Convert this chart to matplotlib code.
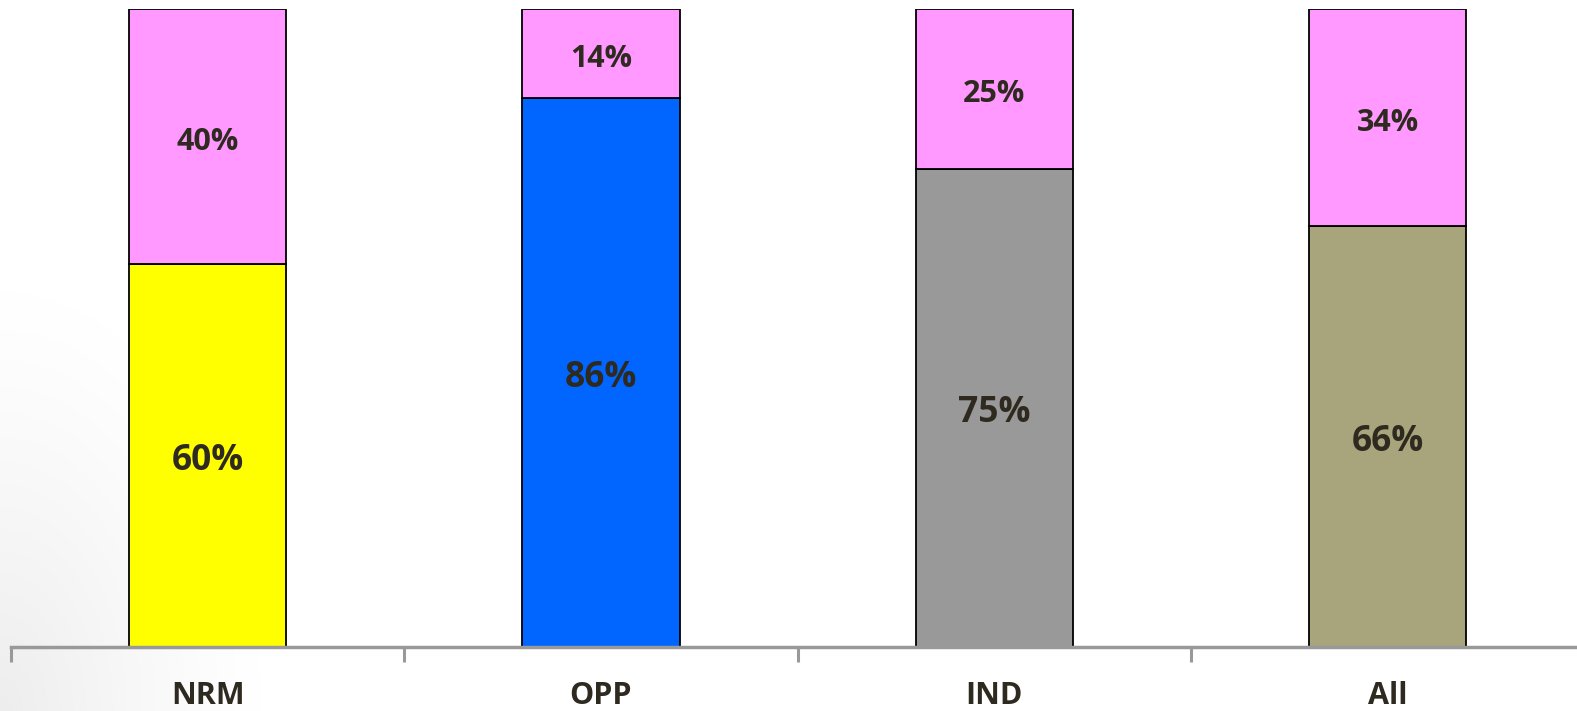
import numpy as np
import matplotlib
matplotlib.use("Agg")
import matplotlib.pyplot as plt
from matplotlib.transforms import offset_copy

categories = ["NRM", "OPP", "IND", "All"]
bottom_vals = [60, 86, 75, 66]
top_vals = [40, 14, 25, 34]
bottom_colors = ["#FFFF00", "#0066FF", "#999999", "#A8A57C"]
top_color = "#FF99FF"
text_color = "#2F2A20"

W, H = 1577, 711
fig = plt.figure(figsize=(W / 100, H / 100), dpi=100)

# subtle background gradient in lower-left
bg = fig.add_axes([0, 0, 1, 1], zorder=-10)
yy, xx = np.mgrid[0:H, 0:W]
d = np.sqrt((xx / 260.0) ** 2 + ((H - yy) / 420.0) ** 2)
shade = 1 - 0.07 * np.clip(1 - d, 0, 1) ** 1.2
img = np.dstack([shade, shade, shade])
bg.imshow(img, aspect="auto", extent=[0, 1, 0, 1], origin="upper")
bg.axis("off")

left = 11 / W
right_px = 11 + 4 * 393.3
ax = fig.add_axes([left, (H - 647) / H, (right_px - 11) / W, (647 - 9) / H])
ax.patch.set_alpha(0)
x = np.arange(len(categories))
width = 0.40
ax.bar(x, bottom_vals, width, color=bottom_colors, edgecolor="black", linewidth=1.3, zorder=2)
ax.bar(x, top_vals, width, bottom=bottom_vals, color=top_color, edgecolor="black", linewidth=1.3, zorder=2)

tr = offset_copy(ax.transData, fig=fig, x=0, y=-3.8, units="points")
for i in range(len(categories)):
    ax.text(x[i], bottom_vals[i] / 2, f"{bottom_vals[i]}%", ha="center", va="center",
            fontsize=25.5, fontweight="bold", color=text_color, family="Open Sans", transform=tr)
    ax.text(x[i], bottom_vals[i] + top_vals[i] / 2, f"{top_vals[i]}%", ha="center", va="center",
            fontsize=22, fontweight="bold", color=text_color, family="Open Sans", transform=tr)

ax.set_xlim(-0.5, 3.5)
ax.set_ylim(0, 100)
for s in ["top", "right", "left"]:
    ax.spines[s].set_visible(False)
ax.spines["bottom"].set_color("#999999")
ax.spines["bottom"].set_linewidth(2.5)
ax.spines["bottom"].set_zorder(3)
ax.set_yticks([])
ax.set_xticks(np.arange(-0.5, 4.0, 1.0), minor=False)
ax.set_xticklabels([])
ax.tick_params(axis="x", which="major", length=11, width=2.2, color="#999999", direction="out")
ax.set_xticks(x, minor=True)
ax.set_xticklabels(categories, minor=True)
ax.tick_params(axis="x", which="minor", length=0, pad=24.5, labelsize=22, labelcolor=text_color)
for lab in ax.get_xticklabels(minor=True):
    lab.set_fontweight("bold")
    lab.set_family("Open Sans")

fig.savefig("out.png", dpi=100)
